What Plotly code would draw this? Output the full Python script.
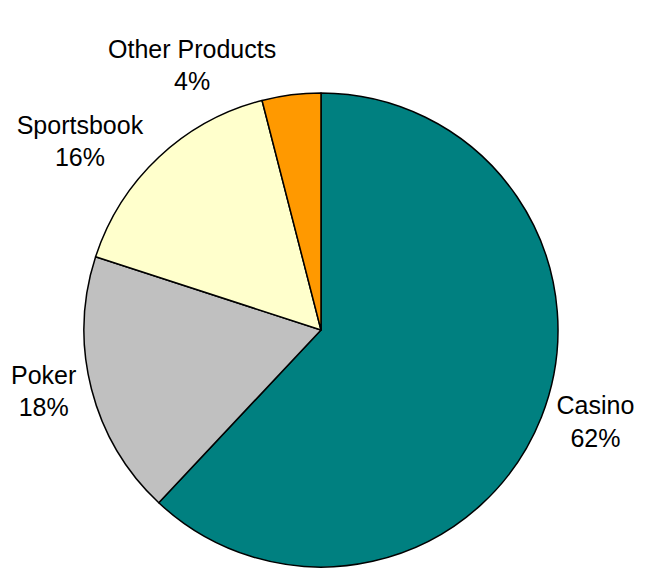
import plotly.graph_objects as go

labels = ["Casino", "Poker", "Sportsbook", "Other Products"]
values = [62, 18, 16, 4]
colors = ["#008080", "#C0C0C0", "#FFFFCC", "#FF9900"]

fig = go.Figure(go.Pie(
    labels=labels,
    values=values,
    sort=False,
    direction="clockwise",
    rotation=0,
    textinfo="label+percent",
    textposition="outside",
    automargin=False,
    marker=dict(colors=colors, line=dict(color="black", width=1.5)),
    outsidetextfont=dict(family="Liberation Sans, Arial, sans-serif", size=25, color="black"),
    showlegend=False,
    hoverinfo="label+percent",
))

fig.update_layout(
    width=648,
    height=571,
    margin=dict(l=0, r=22, t=85, b=12, autoexpand=False),
    paper_bgcolor="white",
    plot_bgcolor="white",
)

fig.write_html("out.html")
